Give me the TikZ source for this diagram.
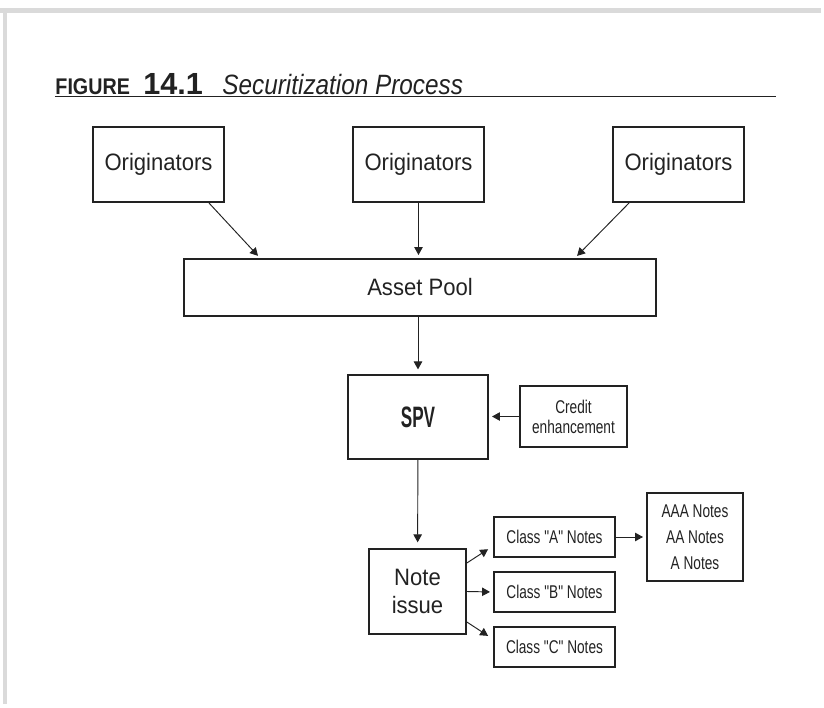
\documentclass[tikz,border=0pt]{standalone}
\usepackage{xcolor}
\usepackage{fontspec}
\usepackage{tikz}
\usetikzlibrary{positioning}
\usetikzlibrary{calc,arrows.meta}

\setmainfont{Liberation Sans}
\newfontfamily\boxfont[FakeStretch=0.93]{Liberation Sans}
\newfontfamily\narrowfont[FakeStretch=0.74]{Liberation Sans}
\newfontfamily\spvfont[FakeStretch=0.58]{Liberation Sans}
\newfontfamily\headfont[FakeStretch=0.87]{Liberation Sans}
\definecolor{ink}{HTML}{222222}
\definecolor{framegray}{HTML}{DADADA}

\begin{document}
\begin{tikzpicture}[->,>={Triangle[length=7.5pt,width=8pt]},shorten >=3pt,
  line width=.9pt,color=ink,
  big box/.style={draw,line width=1.6pt,inner sep=0pt,align=center,font=\boxfont\fontsize{22.5}{27}\selectfont},
  small box/.style={draw,line width=1.6pt,inner sep=0pt,align=center,font=\narrowfont\fontsize{17.5}{19}\selectfont}]
\useasboundingbox (0,0) rectangle (27.467,23.567);
% page frame
\draw[-,line width=0.15cm,color=framegray] (0,23.217) -- (27.467,23.217);
\draw[-,line width=0.133cm,color=framegray] (0.167,23.3) -- (0.167,0);
% title
\node[anchor=base west,inner sep=0pt,font=\headfont\bfseries\fontsize{21.5}{24}\selectfont] (figtag) at (1.833,20.417) {FIGURE};
\node[anchor=base west,inner sep=0pt,font=\bfseries\fontsize{29}{32}\selectfont] (fignum) at (4.767,20.417) {14.1};
\node[anchor=base west,inner sep=0pt,font=\headfont\itshape\fontsize{26.5}{30}\selectfont] (figname) at (7.4,20.417) {Securitization Process};
\draw[-,line width=1.8pt] (1.833,20.35) -- (25.967,20.35);
% boxes
\node[big box,minimum width=4.367cm,minimum height=2.5cm] at (5.283,18.083) (orig1) {Originators};
\node[big box,minimum width=4.367cm,minimum height=2.5cm] at (13.95,18.083) (orig2) {Originators};
\node[big box,minimum width=4.367cm,minimum height=2.5cm] at (22.617,18.083) (orig3) {Originators};
\node[big box,minimum width=15.733cm,minimum height=1.9cm] at (14.0,13.983) (pool) {Asset Pool};
\node[big box,minimum width=4.667cm,minimum height=2.8cm,font=\spvfont\bfseries\fontsize{28}{30}\selectfont] at (13.933,9.667) (spv) {SPV};
\node[small box,minimum width=3.567cm,minimum height=2.033cm] at (19.117,9.683) (credit) {Credit\\enhancement};
\node[big box,minimum width=3.233cm,minimum height=2.833cm] at (13.917,3.85) (note) {Note\\issue};
\node[small box,minimum width=4.033cm,minimum height=1.333cm] at (18.483,5.667) (classA) {Class "A" Notes};
\node[small box,minimum width=4.033cm,minimum height=1.333cm] at (18.483,3.833) (classB) {Class "B" Notes};
\node[small box,minimum width=4.033cm,minimum height=1.333cm] at (18.483,2.0) (classC) {Class "C" Notes};
\node[small box,minimum width=3.2cm,minimum height=2.933cm,font=\narrowfont\fontsize{17.5}{24.5}\selectfont] at (23.167,5.667) (tiers) {AAA Notes\\AA Notes\\A Notes};
% arrows
\draw ([xshift=-0.533cm]orig1.south east) -- ([xshift=2.567cm]pool.north west);
\draw (orig2) -- (orig2 |- pool.north);
\draw ([xshift=0.567cm]orig3.south west) -- ([xshift=-2.733cm]pool.north east);
\draw[shorten >=4.5pt] (spv |- pool.south) -- (spv);
\draw (credit) -- (credit -| spv.east);
\draw[shorten >=5.5pt] (spv) -- (note);
\draw ([yshift=0.95cm]note.east) -- ([xshift=-0.08cm,yshift=-0.35cm]classA.west);
\draw (note.east) -- (classB.west);
\draw ([yshift=-1.017cm]note.east) -- ([xshift=-0.08cm,yshift=0.313cm]classC.west);
\draw (classA) -- (tiers);
\end{tikzpicture}
\end{document}
